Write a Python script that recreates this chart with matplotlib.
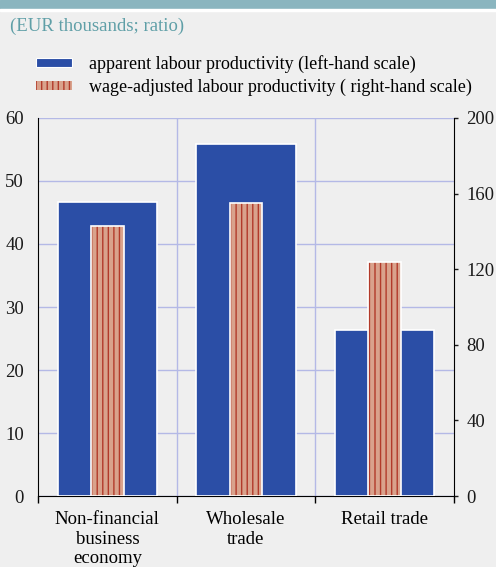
import numpy as np
import matplotlib
matplotlib.use("Agg")
from matplotlib import pyplot as plt
from matplotlib.patches import Patch

# Dados
setores = ["Non-financial\nbusiness\neconomy", "Wholesale\ntrade", "Retail trade"]
produtividade = [46.6, 55.8, 26.3]      # EUR mil (escala esquerda)
ajustada = [143, 155, 124]              # razao (escala direita)
ticks_esq = [0, 10, 20, 30, 40, 50, 60]
ticks_dir = [0, 40, 80, 120, 160, 200]

# Cores
fundo = "#efefef"
azul = "#2b4ea6"
salmao = "#d9a28c"
listra = "#b23a2a"
grade = "#b4b9e6"

plt.rcParams["font.family"] = ["Liberation Serif", "DejaVu Serif"]
plt.rcParams["hatch.linewidth"] = 1.0

fig = plt.figure(figsize=(4.96, 5.67), dpi=100, facecolor=fundo)
ax = fig.add_axes([0.0766, 0.1252, 0.8387, 0.6667], facecolor=fundo)
ax2 = ax.twinx()

x = np.arange(len(setores))

# Barras azuis (escala esquerda)
ax.bar(x, produtividade, width=0.715, color=azul, edgecolor="white", linewidth=1.2, zorder=3)
ax.set_ylim(0, 60)
ax.set_xlim(-0.5, 2.5)
ax.set_yticks(ticks_esq)
ax.tick_params(axis="y", length=0, labelsize=13.5, pad=10, colors="#1a1a1a")
ax.yaxis.grid(True, color=grade, linewidth=1.0, zorder=0)
for b in [0.5, 1.5]:
    ax.axvline(b, color=grade, linewidth=1.0, zorder=0)

# Rotulos das categorias entre os ticks
ax.set_xticks([-0.5, 0.5, 1.5, 2.5])
ax.set_xticklabels([])
ax.set_xticks(x, minor=True)
ax.set_xticklabels(setores, minor=True, fontsize=13.5, linespacing=1.2)
ax.tick_params(axis="x", which="major", length=5, width=1, direction="out", color="black")
ax.tick_params(axis="x", which="minor", length=0, pad=11)

# Barras listradas (escala direita)
ax2.bar(x, ajustada, width=0.235, color=salmao, edgecolor=listra, hatch="|||", linewidth=0, zorder=3)
ax2.bar(x, ajustada, width=0.235, fill=False, edgecolor="white", linewidth=1.2, zorder=4)
ax2.set_ylim(0, 200)
ax2.set_yticks(ticks_dir)
ax2.tick_params(axis="y", length=3, width=1, labelsize=13.5, pad=6, colors="#1a1a1a")

for a in [ax, ax2]:
    a.spines["top"].set_visible(False)
    a.set_axisbelow(True)
ax2.spines["left"].set_visible(False)
ax2.spines["bottom"].set_visible(False)
ax.spines["right"].set_visible(False)
for s in ["left", "bottom"]:
    ax.spines[s].set_color("black")
ax2.spines["right"].set_color("black")
ax.set_zorder(ax2.get_zorder() - 1)
ax2.patch.set_visible(False)
ax.patch.set_visible(True)

# Faixa superior e subtitulo
fig.patches.append(plt.Rectangle((0, 0.986), 1, 0.014, transform=fig.transFigure,
                                 color="#8ab5bf", zorder=0))
fig.patches.append(plt.Rectangle((0, 0.981), 1, 0.004, transform=fig.transFigure,
                                 color="white", zorder=0))
fig.text(0.02, 0.953, "(EUR thousands; ratio)", color="#5f9fa7", fontsize=13.5,
         ha="left", va="center")

# Legenda
alcas = [Patch(facecolor=azul, edgecolor="white", linewidth=0.8),
         Patch(facecolor=salmao, edgecolor=listra, hatch="|||", linewidth=0)]
textos = ["apparent labour productivity (left-hand scale)",
          "wage-adjusted labour productivity ( right-hand scale)"]
fig.legend(alcas, textos, loc="upper left", bbox_to_anchor=(0.073, 0.903),
           frameon=False, fontsize=13, handlelength=2.0, handleheight=0.4,
           handletextpad=0.9, labelspacing=0.3, borderpad=0, borderaxespad=0)

fig.savefig("out.png", dpi=100, facecolor=fundo)
